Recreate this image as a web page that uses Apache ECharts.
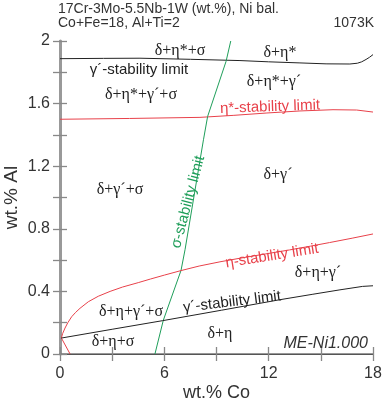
<!DOCTYPE html>
<html><head><meta charset="utf-8">
<script src="https://cdn.jsdelivr.net/npm/echarts@6/dist/echarts.min.js"></script>
<style>html,body{margin:0;padding:0;background:#fff}#c{width:382px;height:400px}</style>
</head><body><div id="c"></div>
<script>
// Phase boundaries: [wt.% Co, wt.% Al]
const gammaUpperLimit = [[0,1.887],[2.5,1.889],[4.6,1.89],[7.5,1.883],[10.35,1.875],[12,1.867],[13.8,1.86],[15.3,1.854],[16.67,1.853],[17.1,1.858],[17.35,1.867],[17.6,1.882],[17.8,1.896],[18,1.913]];
const etaStarLimit = [[0,1.5],[4,1.505],[8.05,1.512],[10,1.525],[11.9,1.54],[13.8,1.553],[15.7,1.561],[17.06,1.559],[18,1.546]];
const sigmaLimit = [[5.46,0],[5.94,0.215],[6.96,0.534],[7.19,0.666],[8.25,1.369],[8.49,1.518],[9.55,1.87],[9.82,2.0]];
const etaCorner = [[0.58,0],[0.08,0.102]];
const etaLimit = [[0.08,0.102],[0.15,0.13],[0.29,0.166],[0.45,0.2],[0.67,0.238],[0.9,0.266],[1.15,0.292],[1.63,0.334],[2.2,0.369],[2.88,0.40],[3.6,0.428],[4.5,0.456],[5.2,0.479],[6.0,0.504],[6.96,0.533],[8.0,0.562],[9.2,0.589],[10.35,0.612],[11.8,0.639],[13.2,0.665],[14.4,0.689],[15.5,0.712],[16.8,0.74],[18,0.767]];
const gammaLowerLimit = [[0.08,0.102],[3,0.158],[5.9,0.213],[9.3,0.28],[12.65,0.347],[14.5,0.381],[16.1,0.41],[17.4,0.432],[18,0.436]];
const xTickLabels = ['0','6','12','18'];
const yTickLabels = ['0','0.4','0.8','1.2','1.6','2'];

const chart = echarts.init(document.getElementById('c'));
const serif = '"Liberation Serif", "DejaVu Serif", serif';
const sans = '"Liberation Sans", Arial, sans-serif';
const RED = '#e8414a', GREEN = '#1f9e5a', BLACK = '#222';
function txt(x, y, s, opt) {
  opt = opt || {};
  return {type:'text', x:x, y:y, rotation:(opt.rot||0)*Math.PI/180, z:10,
    style:{text:s, fill:opt.color||'#222', font:(opt.style||'')+' '+(opt.size||16)+'px '+(opt.family||serif),
      align:opt.align||'center', verticalAlign:'middle'}};
}
const tickStyle = {show:true, inside:false, length:7, lineStyle:{color:'#888', width:1.3}};
const lineS = (data, color) => ({type:'line', data:data, smooth:false, showSymbol:false, lineStyle:{color:color, width:1}});
const option = {
  animation:false,
  grid:{left:60, right:9, top:41, bottom:46, containLabel:false, outerBoundsMode:'none'},
  xAxis:[{type:'value', min:0, max:18, interval:3, position:'bottom',
    name:'wt.% Co', nameLocation:'middle', nameGap:30, nameMoveOverlap:false,
    nameTextStyle:{fontSize:18, color:'#333', fontFamily:sans},
    axisLine:{lineStyle:{color:'#777', width:1.5}}, axisTick:tickStyle, splitLine:{show:false},
    axisLabel:{fontSize:16, color:'#333', fontFamily:sans, margin:12,
      formatter:v=>xTickLabels.includes(String(v))?String(v):''}},
   {type:'value', min:0, max:18, interval:3, position:'top',
    axisLine:{lineStyle:{color:'#555', width:1}}, axisTick:tickStyle, splitLine:{show:false}, axisLabel:{show:false}}],
  yAxis:[{type:'value', min:0, max:2, interval:0.2, position:'left',
    name:'wt.% Al', nameLocation:'middle', nameGap:39, nameRotate:90, nameMoveOverlap:false,
    nameTextStyle:{fontSize:19, color:'#333', fontFamily:sans},
    axisLine:{lineStyle:{color:'#999', width:2}}, axisTick:tickStyle, splitLine:{show:false},
    axisLabel:{fontSize:16, color:'#333', fontFamily:sans, margin:10,
      formatter:v=>{const s=String(+v.toFixed(1));return yTickLabels.includes(s)?s:'';}}},
   {type:'value', min:0, max:2, interval:0.2, position:'right',
    axisLine:{lineStyle:{color:'#999', width:3}}, axisTick:tickStyle, splitLine:{show:false}, axisLabel:{show:false}}],
  series:[
    lineS(gammaUpperLimit, BLACK),
    lineS(etaStarLimit, RED),
    lineS(sigmaLimit, GREEN),
    lineS(etaCorner, RED),
    lineS(etaLimit, RED),
    lineS(gammaLowerLimit, BLACK)
  ],
  graphic:[
    txt(58, 9, '17Cr-3Mo-5.5Nb-1W (wt.%), Ni bal.', {align:'left', size:14, family:sans, color:'#333'}),
    txt(58, 23, 'Co+Fe=18, Al+Ti=2', {align:'left', size:14, family:sans, color:'#333'}),
    txt(374, 23, '1073K', {align:'right', size:14, family:sans, color:'#333'}),
    txt(180, 51, 'δ+η*+σ'),
    txt(280, 53, 'δ+η*'),
    txt(139, 70, 'γ´-stability limit', {family:sans, size:15}),
    txt(141, 95, 'δ+η*+γ´+σ'),
    txt(274, 82, 'δ+η*+γ´'),
    txt(270, 107, 'η*-stability limit', {family:sans, size:15, color:RED, rot:2}),
    txt(120, 190, 'δ+γ´+σ'),
    txt(278, 175, 'δ+γ´'),
    txt(188, 202, 'σ-stability limit', {family:sans, size:15, color:GREEN, rot:75}),
    txt(272, 256, 'η-stability limit', {family:sans, size:15, color:RED, rot:9}),
    txt(318, 273, 'δ+η+γ´'),
    txt(232, 302, 'γ´-stability limit', {family:sans, size:15, rot:7}),
    txt(131, 312, 'δ+η+γ´+σ'),
    txt(113, 342, 'δ+η+σ'),
    txt(220, 334, 'δ+η'),
    txt(368, 344, 'ME-Ni1.000', {align:'right', size:16, family:sans, style:'italic', color:'#333'})
  ]
};
chart.setOption(option);
</script></body></html>
